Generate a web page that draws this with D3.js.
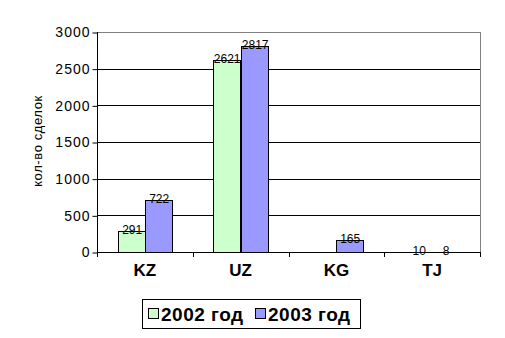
<!DOCTYPE html>
<html>
<head>
<meta charset="utf-8">
<script src="https://cdn.jsdelivr.net/npm/d3@7"></script>
<style>
  html, body { margin: 0; padding: 0; background: #fff; }
  text { font-family: Arial, "Liberation Sans", sans-serif; }
</style>
</head>
<body>
<svg id="chart" width="505" height="338"></svg>
<script>
// Deals per country, 2002 vs 2003
const categories = ["KZ", "UZ", "KG", "TJ"];
const seriesNames = ["2002 год", "2003 год"];
const values2002 = [291, 2621, null, 10];
const values2003 = [722, 2817, 165, 8];
const yTicks = [0, 500, 1000, 1500, 2000, 2500, 3000];
const yTitle = "кол-во сделок";
const colors = ["#CCFFCC", "#9999FF"];

const svg = d3.select("#chart");
const plotLeft = 97, plotRight = 480, plotTop = 32, plotBottom = 252;

const x = d3.scaleBand().domain(categories).range([plotLeft, plotRight]).paddingInner(0).paddingOuter(0);
const inner = d3.scaleBand().domain(seriesNames).range([20.5, x.bandwidth() - 20.5]).padding(0);
const y = d3.scaleLinear().domain([0, 3000]).range([plotBottom, plotTop]);

// plot area border (grey)
svg.append("rect")
  .attr("x", plotLeft + 0.5).attr("y", plotTop + 0.5)
  .attr("width", plotRight - plotLeft).attr("height", plotBottom - plotTop)
  .attr("fill", "#fff").attr("stroke", "#808080").attr("stroke-width", 1);

// gridlines
svg.append("g").selectAll("line")
  .data(yTicks.filter(d => d > 0 && d < 3000))
  .join("line")
  .attr("x1", plotLeft).attr("x2", plotRight)
  .attr("y1", d => Math.round(y(d)) + 0.5).attr("y2", d => Math.round(y(d)) + 0.5)
  .attr("stroke", "#000");

// bars with value labels
const series = [values2002, values2003];
const barG = svg.append("g");
series.forEach((vals, si) => {
  categories.forEach((c, ci) => {
    const v = vals[ci];
    if (v == null) return;
    const x0 = Math.round(x(c) + inner(seriesNames[si])) + 0.5;
    const h = Math.floor(y(0) - y(v));
    const y0 = plotBottom - h + 0.5;
    barG.append("rect")
      .attr("x", x0).attr("y", y0)
      .attr("width", Math.round(inner.bandwidth()))
      .attr("height", h)
      .attr("fill", colors[si]).attr("stroke", "#000");
    barG.append("text")
      .attr("x", x0 + inner.bandwidth() / 2).attr("y", y(v) + 3.5)
      .attr("text-anchor", "middle")
      .attr("font-size", 12)
      .text(v);
  });
});

// y axis
const yAxis = d3.axisLeft(y).tickValues(yTicks).tickFormat(d3.format("d")).tickSize(5).tickPadding(2);
const yg = svg.append("g").attr("transform", `translate(${plotLeft + 0.5},0.5)`).call(yAxis);
yg.select(".domain").remove();
yg.selectAll(".tick line").attr("stroke", "#000");
yg.selectAll(".tick text").attr("font-size", 14).attr("letter-spacing", 1).attr("fill", "#000")
  .attr("font-family", "Arial, 'Liberation Sans', sans-serif");
svg.append("line").attr("x1", plotLeft + 0.5).attr("x2", plotLeft + 0.5)
  .attr("y1", plotTop).attr("y2", plotBottom + 0.5).attr("stroke", "#000");

// x axis
const xAxis = d3.axisBottom(x).tickSize(0).tickPadding(11);
const xg = svg.append("g").attr("transform", `translate(0,${plotBottom + 0.5})`).call(xAxis);
xg.select(".domain").remove();
xg.selectAll(".tick text").attr("font-size", 17).attr("font-weight", "bold").attr("fill", "#000")
  .attr("font-family", "Arial, 'Liberation Sans', sans-serif");
svg.append("line").attr("x1", plotLeft).attr("x2", plotRight + 1)
  .attr("y1", plotBottom + 0.5).attr("y2", plotBottom + 0.5).attr("stroke", "#000");
// category separators
svg.append("g").selectAll("line")
  .data(categories.map(c => x(c)).concat([plotRight]))
  .join("line")
  .attr("x1", d => Math.round(d) + 0.5).attr("x2", d => Math.round(d) + 0.5)
  .attr("y1", plotBottom).attr("y2", plotBottom + 5)
  .attr("stroke", "#000");

// y axis title
svg.append("text")
  .attr("transform", `translate(42,141) rotate(-90)`)
  .attr("text-anchor", "middle")
  .attr("font-size", 13)
  .attr("letter-spacing", 0.6)
  .text(yTitle);

// legend
const lg = svg.append("g");
lg.append("rect").attr("x", 142.5).attr("y", 299.5).attr("width", 218).attr("height", 29)
  .attr("fill", "#fff").attr("stroke", "#000");
const legendX = [148, 255];
seriesNames.forEach((s, i) => {
  lg.append("rect").attr("x", legendX[i] + 0.5).attr("y", 308.5).attr("width", 10).attr("height", 10)
    .attr("fill", colors[i]).attr("stroke", "#000");
  lg.append("text").attr("x", legendX[i] + 13).attr("y", 320.5)
    .attr("font-size", 19).attr("letter-spacing", 0.5).attr("font-weight", "bold").text(s);
});
</script>
</body>
</html>
